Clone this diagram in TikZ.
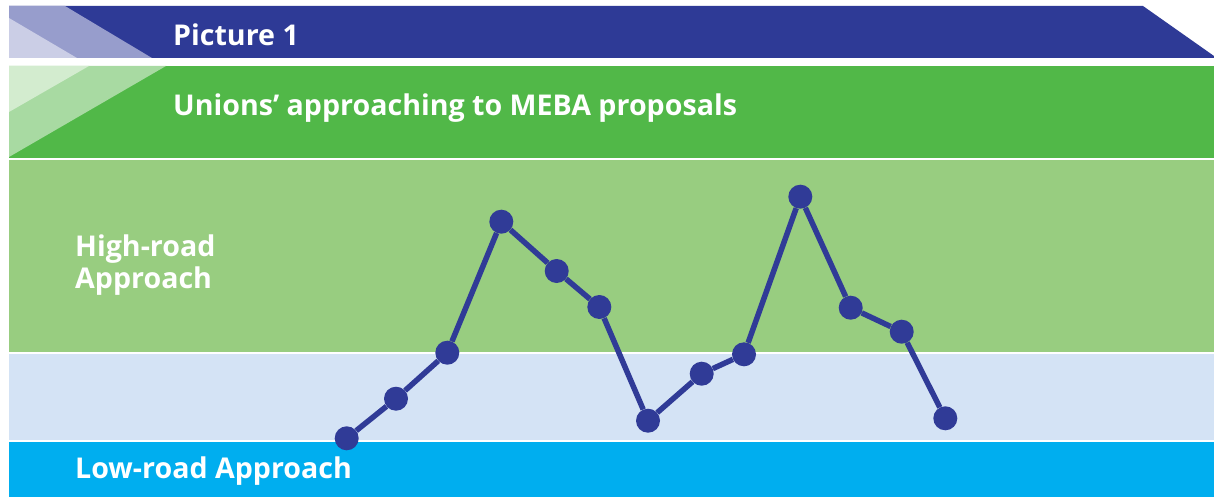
\documentclass[tikz,border=0pt]{standalone}
\usepackage{fontspec}
\setmainfont{Open Sans}
\usepackage{xcolor}
\usepackage{tikz}
\usetikzlibrary{positioning}

\definecolor{titleblue}{HTML}{2E3A96}
\definecolor{titleblue2}{HTML}{979DCC}
\definecolor{titleblue3}{HTML}{CBCEE6}
\definecolor{headgreen}{HTML}{51B848}
\definecolor{headgreen2}{HTML}{A8DAA2}
\definecolor{headgreen3}{HTML}{D3ECCF}
\definecolor{highgreen}{HTML}{98CD80}
\definecolor{midblue}{HTML}{D4E3F5}
\definecolor{lowcyan}{HTML}{00AEEF}
\definecolor{dotblue}{HTML}{303B97}

\begin{document}
\begin{tikzpicture}[
    x=1pt, y=-1pt,
    label/.style={anchor=base west, inner sep=0pt, text=white,
        font=\fontsize{28.6}{32}\selectfont\bfseries, align=left},
    dot/.style={circle, fill=dotblue, minimum size=24pt, inner sep=0pt},
    trend/.style={draw=dotblue, line width=5.5pt}
]
\fill[white] (0,0) rectangle (1214,497);
\useasboundingbox (0,0) rectangle (1214,497);

% Title band
\fill[titleblue] (9,6) -- (1143,6) -- (1214,56) -- (1214,58) -- (9,58) -- cycle;
\fill[titleblue2] (9,6) -- (65,6) -- (152,58) -- (9,58) -- cycle;
\fill[titleblue3] (9,18) -- (77,58) -- (9,58) -- cycle;
\node[label] (title) at (173,46) {Picture 1};

% Subtitle band
\fill[headgreen] (9,66) rectangle (1214,158);
\fill[headgreen2] (9,66) -- (166,66) -- (9,157) -- cycle;
\fill[headgreen3] (9,66) -- (89,66) -- (9,112) -- cycle;
\node[label] (subtitle) at (173,116) {Unions’ approaching to MEBA proposals};

% Levels
\fill[highgreen] (9,160) rectangle (1214,352);
\fill[midblue] (9,354) rectangle (1214,439.5);
\fill[lowcyan] (9,442) rectangle (1214,497);
\node[label] (high) at (75,288.3) {High-road\\[-0.4pt]Approach};
\node[label] (low) at (75,478) {Low-road Approach};

% Trend line
\foreach \i/\x/\y in {1/346.7/438.3, 2/396/398.7, 3/447.3/352.7, 4/501.3/221.7,
    5/556.7/271, 6/599.3/307, 7/648/420.7, 8/701.7/373.7, 9/744/354.3,
    10/800.3/196.7, 11/850.7/307.7, 12/901.7/331.7, 13/945.3/418.3}
    \node[dot] (p\i) at (\x,\y) {};
\foreach \i [evaluate=\i as \j using int(\i+1)] in {1,...,12}
    \draw[trend] (p\i) -- (p\j);
\end{tikzpicture}
\end{document}
